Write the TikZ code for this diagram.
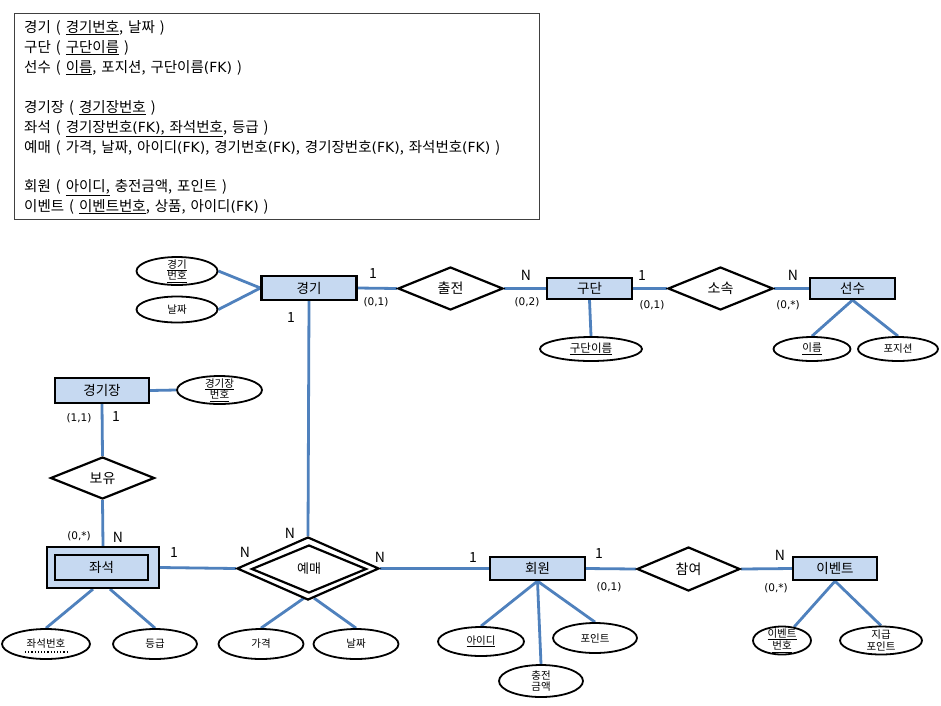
\documentclass[tikz,border=0pt]{standalone}
\usepackage{fontspec}
\setmainfont{Noto Sans CJK KR}
\newfontfamily\latfont{DejaVu Sans}
\newcommand\fkmark{{\latfont\fontsize{14}{16}\selectfont(FK)}}
\newcommand\ws{\hspace*{5pt}}
\usetikzlibrary{shapes.geometric,calc,backgrounds}
\definecolor{entfill}{HTML}{C6D9F1}
\definecolor{lineblue}{HTML}{4F81BD}
\begin{document}
\begin{tikzpicture}[x=1pt,y=-1pt,
  entity/.style={draw=black,line width=2.2pt,fill=entfill,inner sep=0pt,font=\fontsize{13.5}{15}\selectfont},
  rel/.style={diamond,draw=black,line width=2.2pt,fill=white,inner sep=0pt,aspect=2.5,font=\fontsize{14}{15}\selectfont},
  attr/.style={ellipse,draw=black,line width=1.8pt,fill=white,inner sep=0pt,align=center,font=\fontsize{10.5}{11.5}\selectfont},
  link/.style={draw=lineblue,line width=2.8pt},
  card/.style={inner sep=0pt,font=\fontsize{14}{15}\selectfont},
  mult/.style={inner sep=0pt,font=\latfont\fontsize{10.5}{12}\selectfont},
  schema/.style={anchor=base west,inner sep=0pt,font=\fontsize{14.5}{16}\selectfont}]
\begin{scope}[on background layer]
\fill[white] (0,0) rectangle (941,705);
\end{scope}
\useasboundingbox (0,0) rectangle (941,705);

% schema box
\draw[draw=black!75,line width=1pt] (14,13) rectangle (539,219);
\node[schema] (t1) at (24,32) {경기\ws{}(\ws{}\underline{경기번호},\ws{}날짜\ws{})};
\node[schema] (t2) at (24,52) {구단\ws{}(\ws{}\underline{구단이름}\ws{})};
\node[schema] (t3) at (24,72) {선수\ws{}(\ws{}\underline{이름},\ws{}포지션,\ws{}구단이름\fkmark\ws{})};
\node[schema] (t4) at (24,112) {경기장\ws{}(\ws{}\underline{경기장번호}\ws{})};
\node[schema] (t5) at (24,132) {좌석\ws{}(\ws{}\underline{경기장번호\fkmark,\ws{}좌석번호},\ws{}등급\ws{})};
\node[schema] (t6) at (24,152) {예매\ws{}(\ws{}가격,\ws{}날짜,\ws{}아이디\fkmark,\ws{}경기번호\fkmark,\ws{}경기장번호\fkmark,\ws{}좌석번호\fkmark\ws{})};
\node[schema] (t7) at (24,191) {회원\ws{}(\ws{}\underline{아이디,}\ws{}충전금액,\ws{}포인트\ws{})};
\node[schema] (t8) at (24,211) {이벤트\ws{}(\ws{}\underline{이벤트번호},\ws{}상품,\ws{}아이디\fkmark\ws{})};

% entities
\node[entity,minimum width=95pt,minimum height=24pt] (game) at (309,288) {경기};
\node[entity,minimum width=85pt,minimum height=21pt] (club) at (589.5,288.5) {구단};
\node[entity,minimum width=85pt,minimum height=21pt] (player) at (852.5,288.5) {선수};
\node[entity,minimum width=94pt,minimum height=25pt] (stadium) at (102,390.5) {경기장};
\node[entity,minimum width=112pt,minimum height=41pt] (seatout) at (103,567.5) {};
\node[entity,minimum width=93pt,minimum height=25pt] (seat) at (101.5,567.5) {좌석};
\node[entity,minimum width=95pt,minimum height=23pt] (member) at (537.5,568.5) {회원};
\node[entity,minimum width=84pt,minimum height=23pt] (event) at (835,568.5) {이벤트};

% relationships
\node[rel,minimum width=105pt,minimum height=43pt] (play) at (450.5,288.5) {출전};
\node[rel,minimum width=105pt,minimum height=43pt] (belong) at (720.5,288.5) {소속};
\node[rel,minimum width=104pt,minimum height=42pt] (own) at (102.5,478) {보유};
\node[rel,minimum width=103pt,minimum height=44pt] (join) at (688.5,569) {참여};
\node[rel,minimum width=142pt,minimum height=63pt] (resv) at (308,568.5) {};
\node[rel,minimum width=115pt,minimum height=48pt,font=\fontsize{13}{15}\selectfont] (resvin) at (309,569) {예매};

% attributes
\node[attr,minimum width=81pt,minimum height=28pt,inner sep=-2pt] (gno) at (177,271) {\underline{경기}\\\underline{번호}};
\node[attr,minimum width=81pt,minimum height=26pt] (gdate) at (177,309.5) {날짜};
\node[attr,minimum width=102pt,minimum height=24pt,font=\fontsize{11.5}{12}\selectfont] (cname) at (591,349) {\underline{구단이름}};
\node[attr,minimum width=77pt,minimum height=24pt] (pname) at (812,349) {\underline{이름}};
\node[attr,minimum width=80pt,minimum height=24pt] (ppos) at (898,349) {포지션};
\node[attr,minimum width=85pt,minimum height=28pt,inner sep=-2pt] (sno) at (219.5,390) {\underline{경기장}\\\underline{번호}};
\node[attr,minimum width=88pt,minimum height=30pt] (seatno) at (46,644) {좌석번호};
\node[attr,minimum width=84pt,minimum height=30pt] (grade) at (155,644) {등급};
\node[attr,minimum width=85pt,minimum height=30pt] (price) at (261,644) {가격};
\node[attr,minimum width=85pt,minimum height=30pt] (rdate) at (356,644) {날짜};
\node[attr,minimum width=86pt,minimum height=29pt] (mid) at (481,641.5) {\underline{아이디}};
\node[attr,minimum width=84pt,minimum height=32pt] (charge) at (541,681) {충전\\금액};
\node[attr,minimum width=84pt,minimum height=30pt] (point) at (595,638) {포인트};
\node[attr,minimum width=58pt,minimum height=28pt,inner sep=-2pt] (evno) at (782,640.5) {\underline{이벤트}\\\underline{번호}};
\node[attr,minimum width=82pt,minimum height=28pt,inner sep=-2pt] (gpoint) at (881,640.5) {지급\\포인트};
\draw[dotted,line width=1.2pt] ($(seatno.center)+(-21,8)$) -- ($(seatno.center)+(21,8)$);

% connectors
\begin{scope}[on background layer]
\draw[link] (gno.east) -- (game.west);
\draw[link] (gdate.east) -- (game.west);
\draw[link] (game.east) -- (play.west);
\draw[link] (play.east) -- (club.west);
\draw[link] (club.east) -- (belong.west);
\draw[link] (belong.east) -- (player.west);
\draw[link] (club.south) -- (cname.north);
\draw[link] (player.south) -- (pname.north);
\draw[link] (player.south) -- (ppos.north);
\draw[link] (game.south) -- (resv.north);
\draw[link] (stadium.east) -- (sno.west);
\draw[link] (stadium.south) -- (own.north);
\draw[link] (own.south) -- (seatout.north);
\draw[link] ($(seatout.south)+(-10,0)$) -- (seatno.north);
\draw[link] ($(seatout.south)+(7,0)$) -- (grade.north);
\draw[link] (seatout.east) -- (resv.west);
\draw[link] ($(resv.south)+(-4,-3)$) -- (price.north);
\draw[link] ($(resv.south)+(6,-3)$) -- (rdate.north);
\draw[link] (resv.east) -- (member.west);
\draw[link] (member.south) -- (mid.north);
\draw[link] (member.south) -- (charge.north);
\draw[link] (member.south) -- (point.north);
\draw[link] (member.east) -- (join.west);
\draw[link] (join.east) -- (event.west);
\draw[link] (event.south) -- (evno);
\draw[link] (event.south) -- (gpoint.north);
\end{scope}

% cardinalities
\node[card] (c1) at (373,274) {1};
\node[mult] (m1) at (376,302) {(0,1)};
\node[card] (c2) at (526,275) {N};
\node[mult] (m2) at (527,302) {(0,2)};
\node[card] (c3) at (642,275) {1};
\node[mult] (m3) at (652,305) {(0,1)};
\node[card] (c4) at (793,275) {N};
\node[mult] (m4) at (788,305) {(0,*)};
\node[card] (c5) at (291,317) {1};
\node[mult] (m5) at (79,418) {(1,1)};
\node[card] (c6) at (116,416) {1};
\node[mult] (m6) at (79,536) {(0,*)};
\node[card] (c7) at (118,537) {N};
\node[card] (c8) at (174,552) {1};
\node[card] (c9) at (245,552) {N};
\node[card] (c10) at (290,533) {N};
\node[card] (c11) at (380,557) {N};
\node[card] (c12) at (473,557) {1};
\node[card] (c13) at (599,553) {1};
\node[mult] (m7) at (609,587) {(0,1)};
\node[card] (c14) at (780,555) {N};
\node[mult] (m8) at (776,588) {(0,*)};
\end{tikzpicture}
\end{document}
